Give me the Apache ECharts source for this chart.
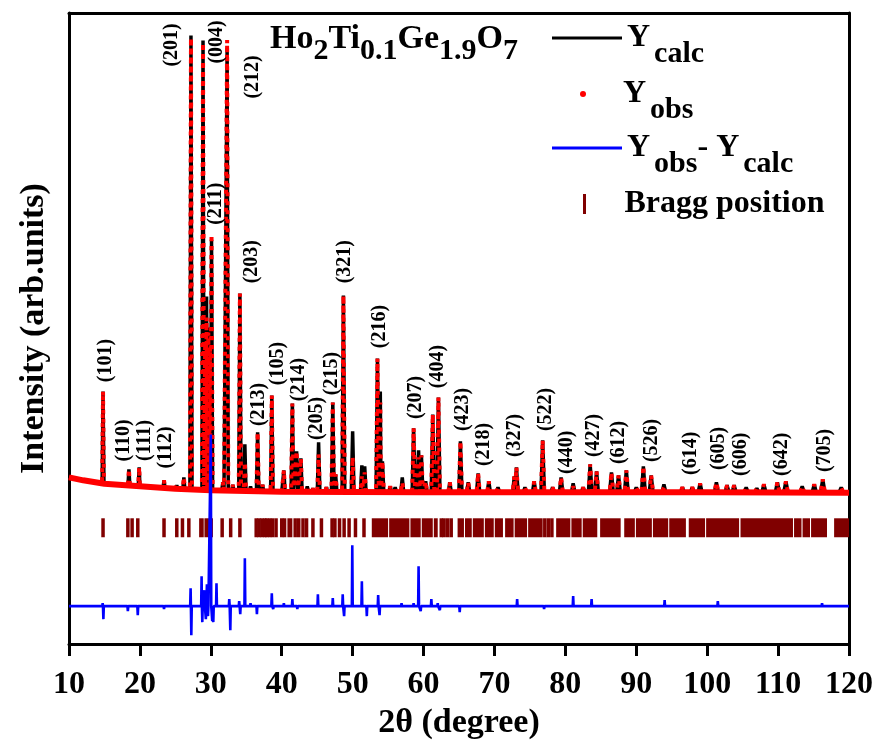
<!DOCTYPE html>
<html>
<head>
<meta charset="utf-8">
<script src="https://cdn.jsdelivr.net/npm/echarts@6/dist/echarts.min.js"></script>
<style>
  html, body { margin: 0; padding: 0; background: #fff; }
  #main { width: 876px; height: 745px; }
</style>
</head>
<body>
<div id="main"></div>
<script>
// background level of the pattern (2θ, intensity)
const bgX = [10, 12, 15, 20, 25, 30, 40, 60, 80, 100, 120]
const bgY = [300, 240, 170, 120, 70, 40, 10, 0, 0, 0, -10]

// peak tops (absolute intensity)
const peakPos = [14.8, 18.45, 19.9, 23.4, 25.2, 26.2, 27.2, 28.9, 29.2, 29.4, 29.65, 29.9, 30.1,
  31.7, 32.3, 33.1, 34.1, 34.8, 35.6, 36.6, 37.3, 38.6, 40.3, 41.5, 42.1, 42.7, 43.6, 44.4, 45.2,
  46.3, 47.2, 47.6, 48.7, 50.0, 51.3, 51.7, 53.5, 53.9, 54.2, 55.3, 56.0, 57.0, 58.6, 59.3, 59.7,
  60.3, 61.3, 62.1, 63.7, 65.2, 66.3, 67.7, 69.2, 70.5, 72.8, 73.1, 74.3, 75.6, 76.8, 78.2, 79.4,
  81.1, 82.5, 83.5, 84.4, 86.5, 87.5, 88.6, 90.0, 91.0, 92.1, 93.9, 96.5, 97.9, 99.0, 101.3, 102.8,
  103.8, 105.5, 107.0, 108.0, 109.9, 111.1, 113.4, 115.1, 116.3, 118.9]
const calcPeak = [2020, 460, 500, 240, 140, 300, 9150, 9050, 2600, 3920, 3300, 2700, 5060,
  200, 8900, 150, 3980, 960, 120, 1200, 150, 1940, 440, 1780, 820, 680, 120, 80, 1000,
  100, 1800, 360, 3940, 1220, 540, 520, 2680, 2020, 620, 120, 100, 300, 1280, 840, 740,
  220, 1560, 1900, 200, 1020, 200, 380, 220, 100, 320, 500, 100, 220, 1040, 100, 300,
  180, 100, 560, 420, 400, 340, 440, 100, 520, 340, 160, 100, 100, 180, 200, 140,
  140, 100, 80, 160, 200, 220, 120, 160, 260, 100]
const obsPeak = [2020, 460, 500, 240, 140, 300, 9100, 9000, 3000, 3500, 3200, 2900, 5160,
  200, 9060, 150, 3980, 600, 40, 1200, 150, 1940, 440, 1780, 820, 680, 120, 80, 760,
  100, 1800, 360, 3940, 700, 320, 400, 2680, 1800, 620, 120, 100, 200, 1280, 700, 740,
  220, 1560, 1900, 200, 1020, 200, 380, 220, 100, 320, 500, 100, 220, 1040, 100, 300,
  120, 100, 560, 420, 400, 340, 440, 100, 520, 340, 100, 100, 100, 180, 200, 140,
  140, 100, 80, 160, 200, 220, 120, 160, 260, 100]

// difference curve (obs - calc), plotted shifted down
const diffOffset = -2280
const diffPos = [10.5, 12, 13.5, 14.75, 14.85, 16.5, 18.3, 19.7, 21, 23.4, 24.5, 26.2, 27.15, 27.25,
  28.7, 28.8, 29.1, 29.3, 29.45, 29.6, 30.0, 30.2, 30.35, 30.8, 32.6, 32.75, 34.0, 34.15, 34.8,
  35.6, 36.5, 37.3, 38.6, 38.8, 40.3, 41.5, 42.2, 43.6, 45.1, 46.3, 47.2, 48.6, 48.8, 49.95, 51.3,
  52.0, 53.6, 53.8, 55.3, 56.9, 58.6, 59.3, 59.6, 61.1, 62.0, 62.3, 64.0, 65.1, 66.5, 68.3, 70.5,
  73.2, 75.6, 77.0, 79.4, 81.1, 83.7, 85.0, 87.5, 89.0, 91.0, 94.0, 96.5, 98.5, 101.5, 104.0,
  107.0, 110.0, 112.5, 114.0, 116.2, 118.5]
const diffVal = [30, -20, 30, 60, -260, 30, -100, -180, 20, -60, 40, -40, 360, -580,
  600, -320, 320, -260, 440, -200, 3440, -300, -320, 460, 140, -480, 100, -160, 960,
  60, -160, 40, 260, -60, 60, 140, -60, 40, 240, -40, 160, 240, -200, 1220, 500,
  -200, 220, -180, 40, 60, 60, 800, -100, 140, 60, -80, 40, -120, 40, -40, 40,
  140, 40, -60, 40, 200, 140, -40, 40, -30, 40, 120, -30, 30, 100, -30,
  30, 40, -30, 40, 60, -20]

// Bragg reflections: [from, to] in 2θ (single lines have from == to)
const braggTop = -520
const braggBottom = -900
const braggRanges = [[14.8, 14.8], [18.3, 18.3], [18.9, 18.9], [19.7, 19.7], [23.4, 23.4], [25.2, 25.2],
  [26.0, 26.0], [26.9, 26.9], [28.35, 29.0], [29.1, 30.3], [31.6, 31.6], [32.8, 32.8], [34.1, 34.1],
  [36.4, 36.4], [36.8, 36.8], [37.2, 37.2], [37.6, 37.6], [37.9, 37.9], [38.3, 38.3], [38.7, 38.7],
  [39.2, 39.2], [40.0, 40.0], [40.4, 40.4], [40.8, 41.5], [41.9, 41.9], [42.4, 42.4], [43.0, 43.0],
  [43.5, 43.5], [44.4, 44.4], [45.6, 45.6], [47.1, 47.1], [47.5, 47.5], [47.9, 48.4], [48.8, 48.8],
  [49.5, 49.5], [50.4, 50.4], [51.6, 51.6], [52.7, 55.0], [55.15, 58.0], [58.15, 59.6], [59.75, 61.3],
  [61.45, 62.0], [62.5, 62.5], [62.9, 62.9], [63.4, 63.4], [63.9, 63.9], [64.8, 65.7], [65.85, 66.8],
  [66.95, 68.5], [68.65, 69.9], [70.05, 71.2], [71.5, 72.7], [72.85, 74.6], [74.75, 76.8],
  [77.1, 77.1], [77.6, 77.6], [78.1, 78.1], [78.7, 80.7], [80.85, 82.3], [82.45, 84.5], [84.9, 87.8],
  [88.3, 89.8], [89.95, 92.2], [92.35, 94.5], [94.65, 97.0], [97.4, 99.7], [99.85, 104.5],
  [104.7, 112.1], [112.25, 113.3], [113.45, 114.5], [114.65, 116.9], [117.9, 120]]

// (hkl) labels: name, 2θ, intensity of the label centre
const hklNames = ['(201)', '(004)', '(212)', '(211)', '(101)', '(110)', '(111)', '(112)', '(203)',
  '(213)', '(105)', '(214)', '(205)', '(215)', '(321)', '(216)', '(207)', '(404)', '(423)', '(218)',
  '(327)', '(522)', '(440)', '(427)', '(612)', '(526)', '(614)', '(605)', '(606)', '(642)', '(705)']
const hklPos = [24.5, 30.85, 35.9, 30.7, 15.2, 17.75, 20.7, 23.66, 35.77, 36.76, 39.44, 42.39, 44.93,
  47.04, 48.87, 53.8, 58.87, 61.97, 65.49, 68.45, 72.82, 77.18, 80.14, 84.08, 87.61, 92.25, 97.75,
  101.69, 104.79, 110.56, 116.62]
const hklY = [8960, 9020, 8320, 5780, 2640, 1040, 1040, 900, 4620, 1760, 2580, 2260, 1480, 2380, 4620,
  3320, 1900, 2520, 1660, 960, 1140, 1660, 800, 1140, 1000, 1040, 780, 880, 760, 760, 840]

const FONT = "'Liberation Serif', 'Times New Roman', serif"

function bgAt(x) {
  for (let i = 1; i < bgX.length; i++) {
    if (x <= bgX[i]) {
      const t = (x - bgX[i - 1]) / (bgX[i] - bgX[i - 1])
      return bgY[i - 1] + t * (bgY[i] - bgY[i - 1])
    }
  }
  return bgY[bgY.length - 1]
}

// line through the background with a narrow peak at every reflection
function profile(tops) {
  const pts = bgX.map((x, i) => [x, bgY[i]])
  peakPos.forEach((p, i) => {
    const hw = 0.12 + 0.0018 * (p - 10)
    pts.push([p - hw, bgAt(p - hw)], [p, Math.max(bgAt(p), tops[i])], [p + hw, bgAt(p + hw)])
  })
  return pts.sort((a, b) => a[0] - b[0])
}

function diffLine() {
  const pts = [[10, diffOffset], [120, diffOffset]]
  diffPos.forEach((p, i) => {
    pts.push([p - 0.06, diffOffset], [p, diffOffset + diffVal[i]], [p + 0.06, diffOffset])
  })
  return pts.sort((a, b) => a[0] - b[0])
}

const legendRich = {
  m: { fontSize: 32, fontWeight: 'bold', fontFamily: FONT, color: '#000', lineHeight: 32, verticalAlign: 'top' },
  s: { fontSize: 30, fontWeight: 'bold', fontFamily: FONT, color: '#000', lineHeight: 30, verticalAlign: 'top', padding: [17, 0, 0, 4] }
}
const legendText = {
  'Y calc': '{m|Y}{s|calc}',
  'Y obs': '{m|Y}{s|obs}',
  'Yobs-Ycalc': '{m|Y}{s|obs}{m|- Y}{s|calc}',
  'Bragg position': '{m|Bragg position}'
}
function legendFor(name, icon, w, h, left, top) {
  return {
    data: [{ name: name, icon: icon }],
    left: left, top: top, padding: 0,
    itemWidth: w, itemHeight: h,
    selectedMode: false,
    itemStyle: { borderWidth: 0 },
    formatter: n => legendText[n],
    textStyle: { rich: legendRich }
  }
}

const chart = echarts.init(document.getElementById('main'))
chart.setOption({
  animation: false,
  backgroundColor: '#fff',
  title: {
    left: 270, top: 22, padding: 0,
    text: '{n|Ho}{s|2}{n|Ti}{s|0.1}{n|Ge}{s|1.9}{n|O}{s|7}',
    textStyle: {
      rich: {
        n: { fontSize: 34, fontWeight: 'bold', fontFamily: FONT, color: '#000', lineHeight: 34, verticalAlign: 'top' },
        s: { fontSize: 30, fontWeight: 'bold', fontFamily: FONT, color: '#000', lineHeight: 30, verticalAlign: 'top', padding: [14, 0, 0, 0] }
      }
    }
  },
  legend: [
    legendFor('Y calc', 'path://M0,0h70v3h-70z', 70, 3, 552, 22),
    legendFor('Y obs', 'circle', 70, 6, 580, 78),
    legendFor('Yobs-Ycalc', 'path://M0,0h70v3h-70z', 70, 3, 552, 132),
    legendFor('Bragg position', 'path://M0,0h3v20h-3z', 70, 20, 583, 188)
  ],
  grid: { left: 69, right: 26, top: 13, bottom: 100 },
  xAxis: [{
    type: 'value', min: 10, max: 120, interval: 10, position: 'bottom',
    name: '2θ (degree)', nameLocation: 'middle', nameGap: 55,
    nameTextStyle: { fontSize: 34, fontWeight: 'bold', fontFamily: FONT, color: '#000' },
    axisLine: { onZero: false, lineStyle: { color: '#000', width: 3 } },
    axisTick: { inside: false, length: 12, lineStyle: { color: '#000', width: 3 } },
    axisLabel: { margin: 25, fontSize: 32, fontWeight: 'bold', fontFamily: FONT, color: '#000' },
    splitLine: { show: false }
  }, {
    type: 'value', min: 10, max: 120, position: 'top',
    axisLine: { onZero: false, lineStyle: { color: '#000', width: 3 } },
    axisTick: { show: false }, axisLabel: { show: false }, splitLine: { show: false }
  }],
  yAxis: [{
    type: 'value', min: -3040, max: 9600, position: 'left',
    name: 'Intensity (arb.units)', nameLocation: 'middle', nameGap: 18,
    nameTextStyle: { fontSize: 34, fontWeight: 'bold', fontFamily: FONT, color: '#000' },
    axisLine: { show: true, onZero: false, lineStyle: { color: '#000', width: 3 } },
    axisTick: { show: false }, axisLabel: { show: false }, splitLine: { show: false }
  }, {
    type: 'value', min: -3040, max: 9600, position: 'right',
    axisLine: { show: true, onZero: false, lineStyle: { color: '#000', width: 3 } },
    axisTick: { show: false }, axisLabel: { show: false }, splitLine: { show: false }
  }],
  series: [
    {
      name: 'Y calc', type: 'line', data: profile(calcPeak), showSymbol: false, z: 2,
      itemStyle: { color: '#000' },
      lineStyle: { color: '#000', width: 3.5 }
    },
    {
      name: 'Y obs', type: 'line', data: profile(obsPeak), showSymbol: false, z: 3,
      itemStyle: { color: '#ff0000' },
      lineStyle: { color: '#ff0000', width: 4, type: [4, 5] }
    },
    {
      name: 'obs background', type: 'line', data: bgX.map((x, i) => [x, bgY[i]]), showSymbol: false, z: 3,
      itemStyle: { color: '#ff0000' },
      lineStyle: { color: '#ff0000', width: 6 }
    },
    {
      name: 'Yobs-Ycalc', type: 'line', data: diffLine(), showSymbol: false, z: 3,
      itemStyle: { color: '#0000ff' },
      lineStyle: { color: '#0000ff', width: 2.6 }
    },
    {
      name: 'Bragg position', type: 'custom', data: braggRanges, z: 2,
      itemStyle: { color: '#800000' },
      renderItem: (params, api) => {
        const a = api.coord([api.value(0), braggTop])
        const b = api.coord([api.value(1), braggBottom])
        const w = Math.max(b[0] - a[0], 3.5)
        const x = (a[0] + b[0]) / 2 - w / 2
        return { type: 'rect', shape: { x: x, y: a[1], width: w, height: b[1] - a[1] }, style: { fill: '#800000' } }
      }
    },
    {
      name: 'hkl', type: 'custom', data: hklPos.map((p, i) => [p, hklY[i]]), z: 10,
      renderItem: (params, api) => {
        const c = api.coord([api.value(0), api.value(1)])
        return {
          type: 'text', x: c[0], y: c[1], rotation: Math.PI / 2,
          style: {
            text: hklNames[params.dataIndex], fontSize: 20, fontWeight: 'bold', fontFamily: FONT,
            fill: '#000', align: 'center', verticalAlign: 'middle'
          }
        }
      }
    }
  ]
})
</script>
</body>
</html>
